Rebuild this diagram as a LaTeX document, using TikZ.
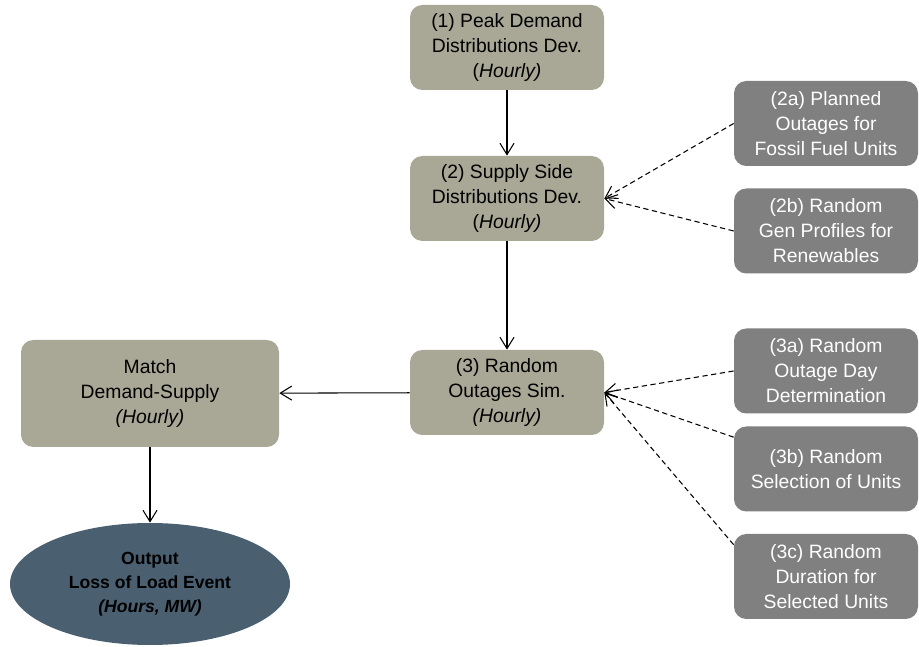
\documentclass[tikz,border=0pt]{standalone}
\usepackage{fontspec}
\setmainfont{Liberation Sans}
\usepackage{xcolor}
\usetikzlibrary{arrows.meta, positioning, shapes.geometric}
\definecolor{stepgrey}{RGB}{169,168,150}
\definecolor{subgrey}{RGB}{128,128,128}
\definecolor{outblue}{RGB}{74,95,112}

\begin{document}
\begin{tikzpicture}[
      stage/.style = {rounded corners=7pt, fill=stepgrey,
                      minimum width=3.88cm, minimum height=1.7cm,
                      inner sep=0pt, align=center,
                      font=\fontsize{11}{14.2}\selectfont},
      substage/.style = {rounded corners=7pt, fill=subgrey, text=white,
                      minimum width=3.68cm, minimum height=1.7cm,
                      inner sep=0pt, align=center,
                      font=\fontsize{11}{14.2}\selectfont},
      result/.style = {ellipse, fill=outblue, inner sep=0pt,
                      minimum width=5.6cm, minimum height=2.44cm,
                      align=center, font=\fontsize{10}{13.6}\selectfont\bfseries},
      arrow/.style = {-{Straight Barb[length=6.5pt,width=8pt]}, line width=0.6pt},
      feed/.style  = {arrow, dash pattern=on 3pt off 2pt}
    ]
    \useasboundingbox (0,0) rectangle (18.38,-12.94);

    % main chain
    \node[stage] (peak)     at (10.14,-0.95) {(1) Peak Demand\\Distributions Dev.\\(\textit{Hourly)}};
    \node[stage] (supply)   at (10.14,-3.97) {(2) Supply Side\\Distributions Dev.\\(\textit{Hourly)}};
    \node[stage] (outages)  at (10.14,-7.85) {(3) Random\\Outages Sim.\\\textit{(Hourly)}};
    \node[stage, minimum width=5.16cm, minimum height=2.14cm]
                 (match)    at (3.0,-7.87)   {Match\\Demand-Supply\\\textit{(Hourly)}};
    \node[result] (output)  at (3.0,-11.68)  {Output\\Loss of Load Event\\\textit{(Hours, MW)}};

    % inputs on the right
    \node[substage] (planned)  at (16.52,-2.47)  {(2a) Planned\\Outages for\\Fossil Fuel Units};
    \node[substage] (genprof)  at (16.52,-4.62)  {(2b) Random\\Gen Profiles for\\Renewables};
    \node[substage] (outday)   at (16.52,-7.42)  {(3a) Random\\Outage Day\\Determination};
    \node[substage] (unitsel)  at (16.52,-9.38)  {(3b) Random\\Selection of Units};
    \node[substage] (duration) at (16.52,-11.53) {(3c) Random\\Duration for\\Selected Units};

    \draw[arrow] (peak)    -- (supply);
    \draw[arrow] (supply)  -- (outages);
    \draw[arrow] (outages) -- (match);
    \draw[arrow] (match)   -- (output);

    \draw[feed] (planned.west)  -- (supply.east);
    \draw[feed] (genprof.west)  -- (supply.east);
    \draw[feed] (outday.west)   -- (outages.east);
    \draw[feed] (unitsel.161)   -- (outages.east);
    \draw[feed] (duration.161)  -- (outages.east);
  \end{tikzpicture}
\end{document}
